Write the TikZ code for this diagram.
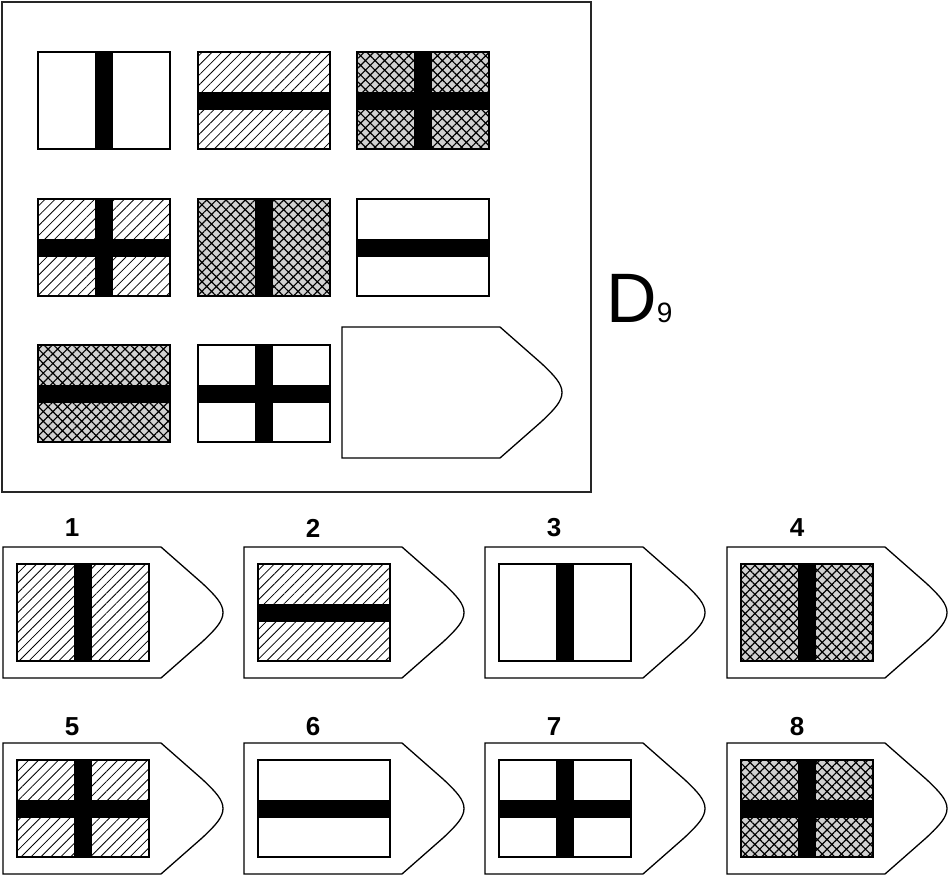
\documentclass[tikz,border=0pt]{standalone}
\usepackage{fontspec}
\setmainfont{Liberation Sans}
\usetikzlibrary{patterns.meta}
\tikzset{
 flagbox/.style={draw=black, line width=1.3pt, minimum width=132pt, minimum height=97pt, inner sep=0pt, outer sep=0pt},
 plain/.style={fill=white},
 hatch/.style={fill=white, postaction={pattern={Lines[angle=45,distance=7pt,line width=0.8pt]}}},
 xhatch/.style={fill=black!18, postaction={pattern={Hatch[angle=45,distance=6.8pt,line width=1.2pt]}}},
 bar/.style={fill=black},
 pointed/.style={draw=black, line width=1.3pt, fill=white},
 numlabel/.style={font=\bfseries\fontsize{26}{26}\selectfont, inner sep=0pt},
 frame/.style={draw=black!85, line width=1.5pt},
}
\newcommand\flagat[4]{\node[flagbox,#4,anchor=north west] (#1) at (#2,#3) {};}
\newcommand\myvbar[1]{\fill[bar] ([xshift=-9pt]#1.north) rectangle ([xshift=9pt]#1.south);}
\newcommand\myhbar[1]{\fill[bar] ([yshift=9pt]#1.west) rectangle ([yshift=-9pt]#1.east);}
\newcommand\pointedat[3]{%
 \begin{scope}[shift={(#2,#3)}]
  \coordinate (#1) at (0,0);
  \draw[pointed] (0,0) -- (158,0) -- (199,36) .. controls (213,49) and (220,57) .. (220,65.5)
    .. controls (220,74) and (213,82) .. (199,95) -- (158,131) -- (0,131) -- cycle;
 \end{scope}}
\begin{document}
\begin{tikzpicture}[x=1pt,y=-1pt]
\useasboundingbox (0,0) rectangle (948,878);
\fill[white] (0,0) rectangle (948,878);
% matrix frame
\draw[frame] (2,2) rectangle (591,492);
% row 1
\flagat{m11}{38}{52}{plain} \myvbar{m11}
\flagat{m12}{198}{52}{hatch} \myhbar{m12}
\flagat{m13}{357}{52}{xhatch} \myvbar{m13} \myhbar{m13}
% row 2
\flagat{m21}{38}{199}{hatch} \myvbar{m21} \myhbar{m21}
\flagat{m22}{198}{199}{xhatch} \myvbar{m22}
\flagat{m23}{357}{199}{plain} \myhbar{m23}
% row 3
\flagat{m31}{38}{345}{xhatch} \myhbar{m31}
\flagat{m32}{198}{345}{plain} \myvbar{m32} \myhbar{m32}
\pointedat{mq}{342}{327}
% title
\node[anchor=base west, inner sep=0pt] (title) at (606,322) {\fontsize{70}{70}\selectfont D\fontsize{28}{28}\selectfont 9};
% answers row 1
\pointedat{p1}{3}{547}   \node[numlabel] (n1) at (72,528) {1};
\flagat{a1}{17}{564}{hatch} \myvbar{a1}
\pointedat{p2}{244}{547} \node[numlabel] (n2) at (313,528) {2};
\flagat{a2}{258}{564}{hatch} \myhbar{a2}
\pointedat{p3}{485}{547} \node[numlabel] (n3) at (554,528) {3};
\flagat{a3}{499}{564}{plain} \myvbar{a3}
\pointedat{p4}{727}{547} \node[numlabel] (n4) at (797,528) {4};
\flagat{a4}{741}{564}{xhatch} \myvbar{a4}
% answers row 2
\pointedat{p5}{3}{743}   \node[numlabel] (n5) at (72,727) {5};
\flagat{a5}{17}{760}{hatch} \myvbar{a5} \myhbar{a5}
\pointedat{p6}{244}{743} \node[numlabel] (n6) at (313,727) {6};
\flagat{a6}{258}{760}{plain} \myhbar{a6}
\pointedat{p7}{485}{743} \node[numlabel] (n7) at (554,727) {7};
\flagat{a7}{499}{760}{plain} \myvbar{a7} \myhbar{a7}
\pointedat{p8}{727}{743} \node[numlabel] (n8) at (797,727) {8};
\flagat{a8}{741}{760}{xhatch} \myvbar{a8} \myhbar{a8}
\end{tikzpicture}
\end{document}
